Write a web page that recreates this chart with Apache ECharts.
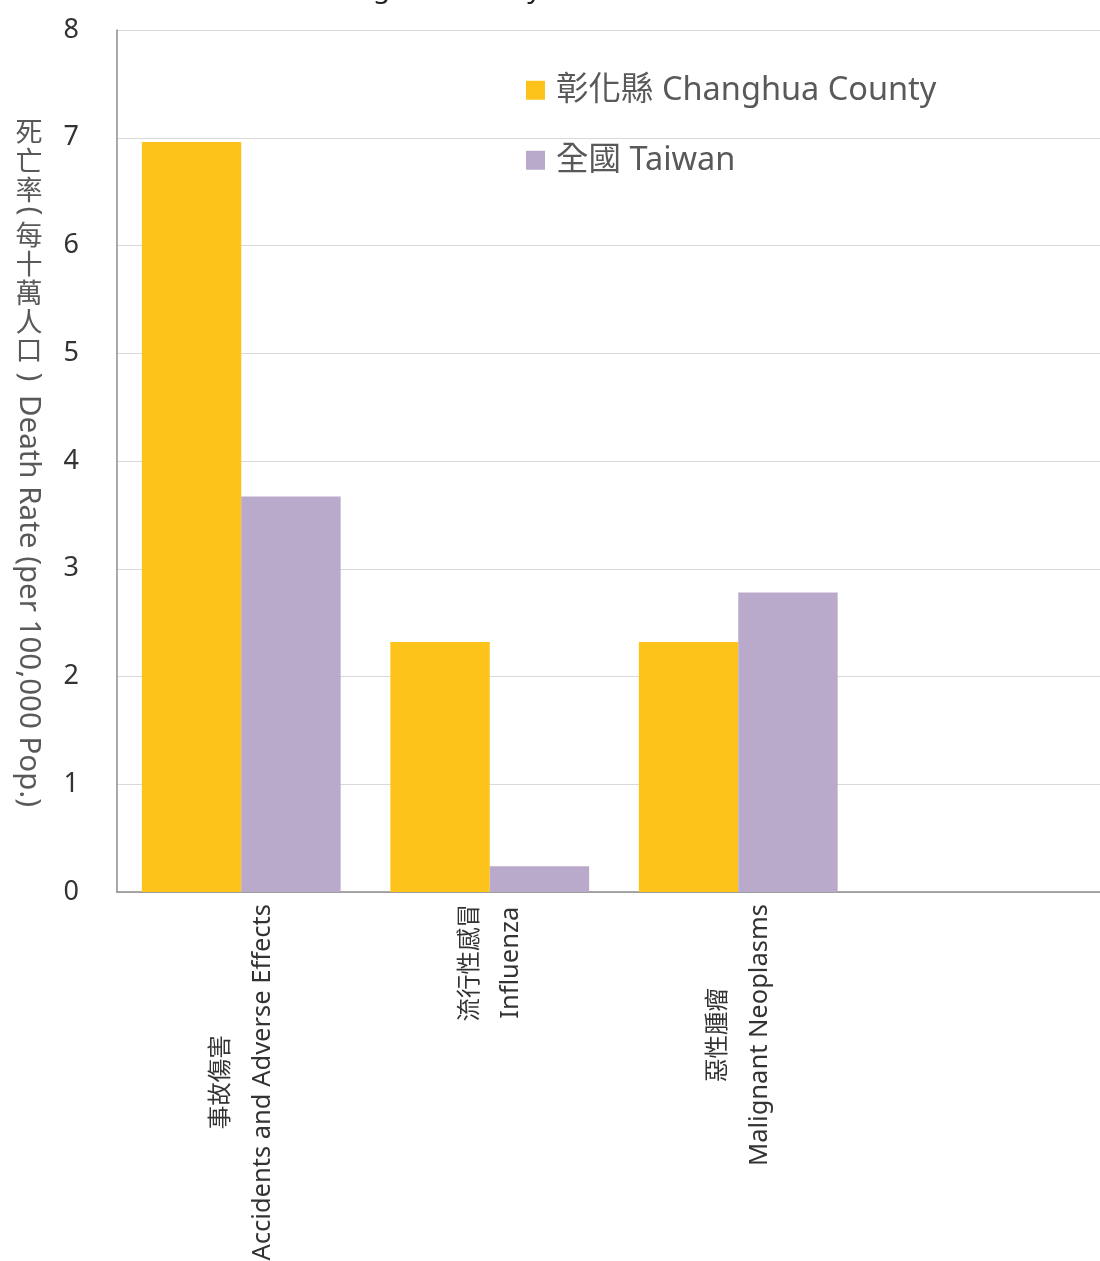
<!DOCTYPE html>
<html>
<head>
<meta charset="utf-8">
<script src="https://cdn.jsdelivr.net/npm/echarts@6/dist/echarts.min.js"></script>
<style>
html,body{margin:0;padding:0;background:#fff;}
#c{width:1100px;height:1261px;}
</style>
</head>
<body>
<div id="c"></div>
<script>
const categoriesCn = ['事故傷害', '流行性感冒', '惡性腫瘤', ''];
const categoriesEn = ['Accidents and Adverse Effects', 'Influenza', 'Malignant Neoplasms', ''];
const seriesNames = ['彰化縣 Changhua County', '全國 Taiwan'];
const changhua = [6.96, 2.32, 2.32, null];
const taiwan = [3.67, 0.24, 2.78, null];
const yTicks = [0, 1, 2, 3, 4, 5, 6, 7, 8];
const yNameCn1 = '死亡率';
const yNameCn2 = '每十萬人口';
const yNameEn = 'Death Rate (per 100,000 Pop.)';

const FONT = "'Noto Sans', 'Noto Sans CJK TC', sans-serif";
const CJK = "'Noto Sans CJK TC', sans-serif";
const NAMECOLOR = '#595959';
const chart = echarts.init(document.getElementById('c'));
const cats = categoriesEn.map((e, i) => i);

function stacked(str, x, y) {
  return {
    type: 'text', x: x, y: y,
    style: {
      text: str.split('').join('\n'),
      align: 'center', verticalAlign: 'top',
      fill: NAMECOLOR, lineHeight: 28.8,
      font: "27px 'Noto Sans CJK TC', sans-serif"
    }
  };
}
function rotated(str, x, y, align) {
  return {
    type: 'text', x: x, y: y, rotation: -Math.PI / 2,
    style: {
      text: str, align: align, verticalAlign: 'middle',
      fill: NAMECOLOR, font: "29.5px 'Noto Sans', sans-serif"
    }
  };
}

chart.setOption({
  animation: false,
  backgroundColor: '#ffffff',
  title: {
    text: 'Changhua County',
    left: 300,
    top: -30,
    textStyle: { fontFamily: FONT, fontSize: 28, fontWeight: 'normal', color: '#222' }
  },
  legend: {
    orient: 'vertical',
    left: 521,
    top: 69,
    itemWidth: 19,
    itemHeight: 19,
    itemGap: 37.5,
    icon: 'rect',
    textStyle: { fontFamily: FONT, fontSize: 32.5, color: '#595959', padding: [0, 0, 0, 6] },
    data: seriesNames
  },
  graphic: [
    stacked(yNameCn1, 29, 117.6),
    rotated('(', 29, 211, 'center'),
    stacked(yNameCn2, 29, 220.6),
    rotated(')', 29, 377, 'center'),
    rotated(yNameEn, 28, 395, 'left')
  ],
  grid: { left: 117, top: 30, bottom: 369, width: 994, containLabel: false, outerBoundsMode: 'none' },
  xAxis: {
    type: 'category',
    data: cats,
    axisLine: { show: true, lineStyle: { color: '#8c8c8c', width: 1.5 } },
    axisTick: { show: false },
    axisLabel: {
      interval: 0,
      rotate: 90,
      margin: 12,
      formatter: function (v) {
        const i = Number(v);
        if (!categoriesEn[i]) return '';
        return '{cn|' + categoriesCn[i] + '}\n{en|' + categoriesEn[i] + '}';
      },
      rich: {
        cn: { fontFamily: CJK, fontSize: 23.5, color: '#333', align: 'center', lineHeight: 42 },
        en: { fontFamily: FONT, fontSize: 25.5, color: '#333', align: 'center', lineHeight: 44 }
      }
    }
  },
  yAxis: {
    type: 'value',
    min: 0,
    max: 8,
    interval: 1,
    axisLine: { show: true, lineStyle: { color: '#8c8c8c', width: 1.5 } },
    axisTick: { show: false },
    axisLabel: {
      margin: 38,
      fontFamily: FONT,
      fontSize: 27,
      color: '#333',
      formatter: function (v) { return yTicks.indexOf(v) >= 0 ? String(v) : ''; }
    },
    splitLine: { show: true, lineStyle: { color: '#d9d9d9', width: 1 } }
  },
  series: [
    { name: seriesNames[0], type: 'bar', data: changhua, barGap: '0%', barCategoryGap: '20%', itemStyle: { color: '#FEC31A' } },
    { name: seriesNames[1], type: 'bar', data: taiwan, barGap: '0%', barCategoryGap: '20%', itemStyle: { color: '#B9AACB' } }
  ]
});
</script>
</body>
</html>
